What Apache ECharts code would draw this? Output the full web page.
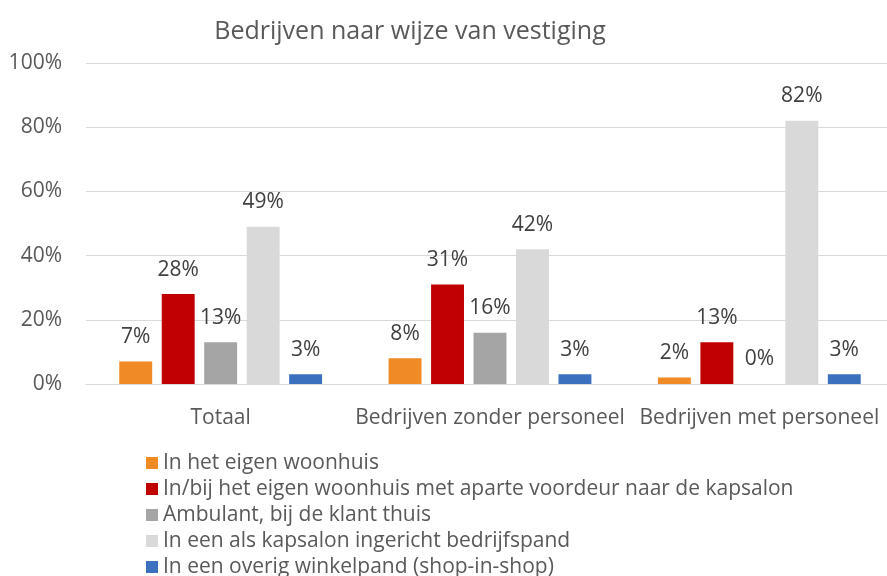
<!DOCTYPE html>
<html>
<head>
<meta charset="utf-8">
<script src="https://cdn.jsdelivr.net/npm/echarts@6/dist/echarts.min.js"></script>
<style>
html,body{margin:0;padding:0;background:#fff;}
#chart{width:887px;height:576px;}
</style>
</head>
<body>
<div id="chart"></div>
<script>
// gegevens
var categories = ['Totaal', 'Bedrijven zonder personeel', 'Bedrijven met personeel'];
var seriesNames = [
  'In het eigen woonhuis',
  'In/bij het eigen woonhuis met aparte voordeur naar de kapsalon',
  'Ambulant, bij de klant thuis',
  'In een als kapsalon ingericht bedrijfspand',
  'In een overig winkelpand (shop-in-shop)'
];
var woonhuis = [7, 8, 2];
var aparteDeur = [28, 31, 13];
var ambulant = [13, 16, 0];
var bedrijfspand = [49, 42, 82];
var winkelpand = [3, 3, 3];
var colors = ['#F08A24', '#C00000', '#A5A5A5', '#D9D9D9', '#3B70BF'];
var yTicks = [0, 20, 40, 60, 80, 100];

var allData = [woonhuis, aparteDeur, ambulant, bedrijfspand, winkelpand];
var font = 'Open Sans';

var series = [];
for (var i = 0; i < allData.length; i++) {
  series.push({
    name: seriesNames[i],
    type: 'bar',
    data: allData[i],
    barGap: '29%',
    barCategoryGap: '24.7%',
    itemStyle: { color: colors[i] },
    label: {
      show: true,
      position: 'top',
      distance: 14,
      formatter: '{c}%',
      fontFamily: font,
      fontSize: 21,
      color: '#404040'
    }
  });
}

var chart = echarts.init(document.getElementById('chart'));
chart.setOption({
  animation: false,
  title: {
    text: 'Bedrijven naar wijze van vestiging',
    left: 405,
    textAlign: 'center',
    top: 14,
    textStyle: { fontFamily: font, fontSize: 25, fontWeight: 'normal', color: '#595959' }
  },
  legend: {
    orient: 'vertical',
    left: 141,
    top: 447,
    height: 140,
    itemWidth: 12,
    itemHeight: 12,
    itemGap: 4,
    icon: 'rect',
    textStyle: { fontFamily: font, fontSize: 21, color: '#595959', lineHeight: 22 },
    data: seriesNames
  },
  grid: { left: 86, width: 808, top: 63, bottom: 192, outerBoundsMode: 'none' },
  xAxis: {
    type: 'category',
    data: categories,
    axisTick: { show: false },
    axisLine: { lineStyle: { color: '#D9D9D9', width: 1 } },
    axisLabel: { interval: 0, fontFamily: font, fontSize: 21, color: '#595959', margin: 24 }
  },
  yAxis: {
    type: 'value',
    min: yTicks[0],
    max: yTicks[yTicks.length - 1],
    interval: 20,
    axisLabel: { formatter: '{value}%', fontFamily: font, fontSize: 21, color: '#595959', margin: 24 },
    splitLine: { lineStyle: { color: '#D9D9D9' } }
  },
  series: series
});
</script>
</body>
</html>
